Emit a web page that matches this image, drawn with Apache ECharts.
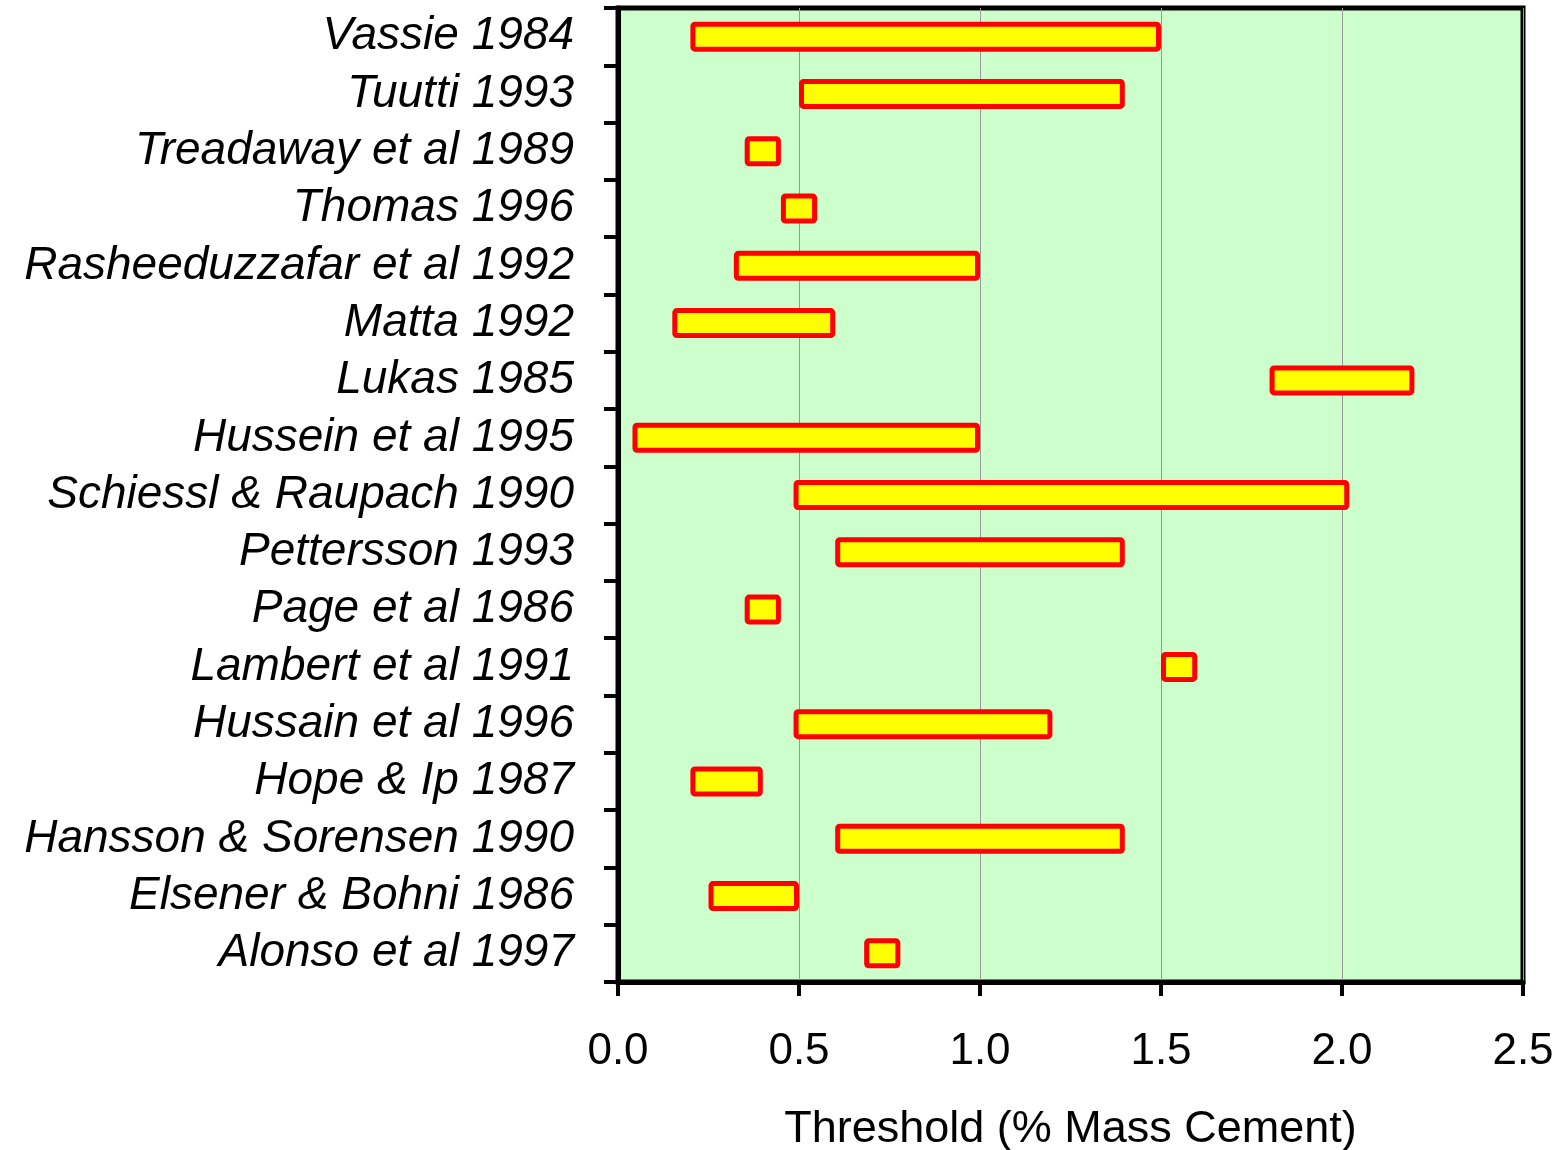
<!DOCTYPE html>
<html>
<head>
<meta charset="utf-8">
<script src="https://cdn.jsdelivr.net/npm/echarts@6/dist/echarts.min.js"></script>
<style>
html,body{margin:0;padding:0;background:#fff;}
#chart{width:1566px;height:1150px;}
</style>
</head>
<body>
<div id="chart"></div>
<script>
var categories = ["Vassie 1984","Tuutti 1993","Treadaway et al 1989","Thomas 1996","Rasheeduzzafar et al 1992","Matta 1992","Lukas 1985","Hussein et al 1995","Schiessl & Raupach 1990","Pettersson 1993","Page et al 1986","Lambert et al 1991","Hussain et al 1996","Hope & Ip 1987","Hansson & Sorensen 1990","Elsener & Bohni 1986","Alonso et al 1997"];
var lowValues  = [0.20, 0.50, 0.35, 0.45, 0.32, 0.15, 1.80, 0.04, 0.485, 0.60, 0.35, 1.50, 0.485, 0.20, 0.60, 0.25, 0.68];
var highValues = [1.50, 1.40, 0.45, 0.55, 1.00, 0.60, 2.20, 1.00, 2.02, 1.40, 0.45, 1.60, 1.20, 0.40, 1.40, 0.50, 0.78];
var xTicks = [0, 0.5, 1.0, 1.5, 2.0, 2.5];

var spans = highValues.map(function(h, i){ return +(h - lowValues[i]).toFixed(4); });

var chart = echarts.init(document.getElementById('chart'));
var font = '"Liberation Sans", Arial, sans-serif';
chart.setOption({
  animation: false,
  grid: {
    left: 618, right: 43, top: 8, bottom: 168,
    outerBoundsMode: 'none', containLabel: false,
    show: true, backgroundColor: '#ccffcc', borderColor: '#000', borderWidth: 5
  },
  xAxis: {
    type: 'value', min: xTicks[0], max: xTicks[xTicks.length-1], interval: 0.5,
    axisLine: {show: true, lineStyle: {color: '#000', width: 5}},
    axisTick: {show: true, inside: false, length: 14, lineStyle: {color: '#000', width: 4}},
    splitLine: {show: true, lineStyle: {color: '#999999', width: 1}},
    axisLabel: {fontSize: 44, color: '#000', fontFamily: font, margin: 48,
      formatter: function(v){ return v.toFixed(1); }},
    name: 'Threshold (% Mass Cement)', nameLocation: 'middle', nameGap: 125,
    nameTextStyle: {fontSize: 45, color: '#000', fontFamily: font}
  },
  yAxis: {
    type: 'category', data: categories, inverse: true,
    axisLine: {show: true, lineStyle: {color: '#000', width: 5}},
    axisTick: {show: true, inside: false, length: 14, interval: 0, lineStyle: {color: '#000', width: 4}},
    splitLine: {show: false},
    axisLabel: {fontSize: 46, color: '#000', fontFamily: font, fontStyle: 'italic', margin: 44, interval: 0}
  },
  series: [
    {type: 'bar', stack: 'r', data: lowValues, barWidth: 30, silent: true,
     itemStyle: {color: 'rgba(0,0,0,0)', borderWidth: 0}},
    {type: 'bar', stack: 'r', data: spans, barWidth: 30,
     itemStyle: {color: '#ffff00', borderColor: '#ff0000', borderWidth: 5, borderRadius: 2}}
  ]
});
</script>
</body>
</html>
